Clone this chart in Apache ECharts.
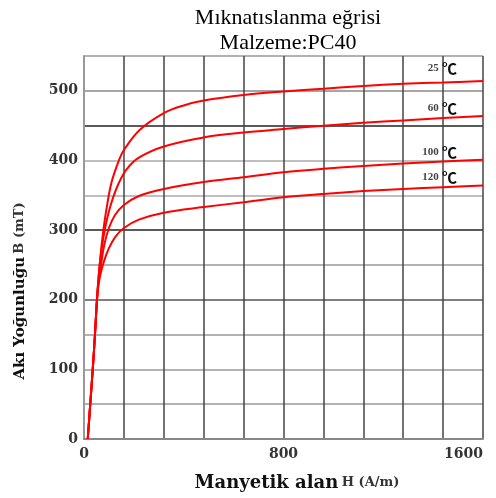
<!DOCTYPE html>
<html><head><meta charset="utf-8">
<script src="https://cdn.jsdelivr.net/npm/echarts@6/dist/echarts.min.js"></script>
<style>html,body{margin:0;padding:0;background:#fff}#c{width:496px;height:498px}</style>
</head><body><div id="c"></div>
<script>
// Data (H in A/m, B in mT)
const H25 = [15, 25, 35, 44, 52, 58, 66, 76, 90, 110, 140, 160, 224, 320, 400, 480, 640, 800, 960, 1120, 1280, 1440, 1600];
const B25 = [0, 50, 100, 150, 200, 230, 262, 295, 330, 368, 400, 415, 444, 468, 479, 486, 494, 499, 503, 507, 510, 512, 514];
const H60 = [15, 25, 35, 44, 52, 58, 66, 78, 95, 115, 140, 170, 220, 320, 480, 640, 800, 960, 1120, 1280, 1440, 1600];
const B60 = [0, 50, 100, 150, 200, 230, 260, 290, 320, 345, 368, 387, 404, 420, 433, 440, 445, 450, 454, 457.5, 461, 464];
const H100 = [15, 25, 35, 44, 52, 58, 68, 82, 100, 125, 160, 220, 320, 480, 640, 800, 960, 1120, 1280, 1440, 1600];
const B100 = [0, 50, 100, 150, 200, 225, 250, 280, 303, 322, 336, 349, 359, 369, 376, 383, 388, 392, 395.5, 398.5, 401];
const H120 = [15, 25, 35, 44, 52, 56, 65, 80, 100, 125, 160, 220, 320, 480, 640, 800, 960, 1120, 1280, 1440, 1600];
const B120 = [0, 50, 100, 150, 200, 215, 235, 255, 274, 290, 303, 315, 325, 333, 340, 347, 352, 356, 359, 361.5, 364];
const curveNames = ['25', '60', '100', '120'];
const labelPos = [[1496, 533], [1496, 475], [1496, 412], [1496, 376]];
const xTickLabels = [0, 800, 1600];
const yTickLabels = [0, 100, 200, 300, 400, 500];

const zip = (h, b) => h.map((v, i) => [v, b[i]]);
const curves = [zip(H25, B25), zip(H60, B60), zip(H100, B100), zip(H120, B120)];
const serif = 'Liberation Serif';
const wide = 'DejaVu Serif';

const chart = echarts.init(document.getElementById('c'));
chart.setOption({
  animation: false,
  backgroundColor: '#fff',
  title: {
    text: 'Mıknatıslanma eğrisi\nMalzeme:PC40',
    left: 283, top: 1, textAlign: 'center',
    textStyle: { fontFamily: serif, fontSize: 22, fontWeight: 'normal', color: '#000', lineHeight: 25 }
  },
  grid: { left: 84, right: 13, top: 56, bottom: 59, containLabel: false, outerBoundsMode: 'none' },
  xAxis: {
    type: 'value', min: 0, max: 1600, interval: 160,
    axisLine: { show: true, lineStyle: { color: '#888', width: 2 } },
    axisTick: { show: false },
    axisLabel: { margin: 8, fontFamily: wide, fontSize: 14, fontWeight: 'bold', color: '#333',
      alignMaxLabel: 'right',
      formatter: v => xTickLabels.includes(v) ? String(v) : '' },
    splitLine: { show: true, lineStyle: { color: '#444', width: 1.5 } }
  },
  yAxis: {
    type: 'value', min: 0, max: 550, interval: 50,
    axisLine: { show: true, lineStyle: { color: '#999', width: 2 } },
    axisTick: { show: false },
    axisLabel: { margin: 6, fontFamily: wide, fontSize: 14, fontWeight: 'bold', color: '#333',
      formatter: v => yTickLabels.includes(v) ? String(v) : '' },
    splitLine: { show: true, lineStyle: { width: 1.5,
      color: ['#888', '#999', '#999', '#999', '#555', '#999', '#222', '#aaa', '#aaa', '#222', '#888', '#999'] } }
  },
  graphic: [{
    type: 'text', x: 20, y: 291, rotation: Math.PI / 2,
    style: { text: '{a|Akı Yoğunluğu} {b|B (mT)}', textAlign: 'center', textVerticalAlign: 'middle',
      rich: { a: { fontFamily: wide, fontSize: 15, fontWeight: 'bold', fill: '#111' },
              b: { fontFamily: wide, fontSize: 13, fontWeight: 'bold', fill: '#333' } } }
  }, {
    type: 'text', x: 297, y: 483,
    style: { text: '{a|Manyetik alan} {b|H (A/m)}', textAlign: 'center', textVerticalAlign: 'middle',
      rich: { a: { fontFamily: wide, fontSize: 18, fontWeight: 'bold', fill: '#111' },
              b: { fontFamily: wide, fontSize: 13, fontWeight: 'bold', fill: '#333' } } }
  }],
  series: curves.map((d, i) => ({
    type: 'line', data: d, smooth: 0.35, showSymbol: false, symbol: 'none',
    lineStyle: { color: '#ff0000', width: 2 },
    markPoint: {
      symbol: 'circle', symbolSize: 0,
      data: [{ coord: labelPos[i], value: curveNames[i] }],
      label: { show: true, position: 'left', distance: 0,
        formatter: p => '{n|' + p.value + '} {c|℃}',
        rich: { n: { fontFamily: serif, fontSize: 11, fontWeight: 'bold', color: '#444' },
                c: { fontFamily: 'Noto Sans CJK SC', fontSize: 15, fontWeight: 'bold', color: '#111' } } }
    }
  }))
});
</script></body></html>
